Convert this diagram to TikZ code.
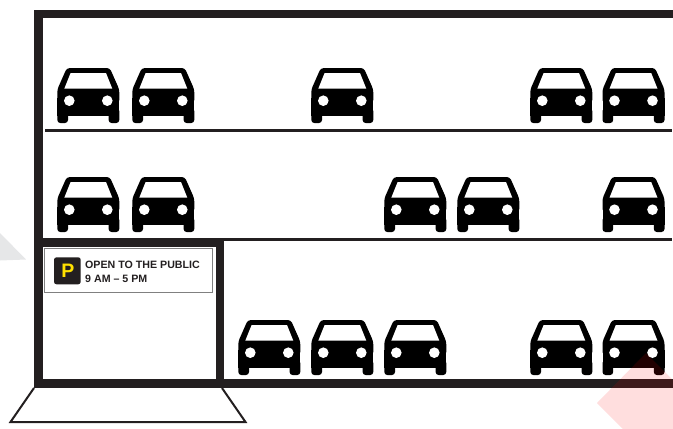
\documentclass[tikz,border=0pt]{standalone}
\usepackage{fontspec}
\setmainfont{Liberation Sans}
\definecolor{ink}{HTML}{231F20}
\definecolor{softgray}{HTML}{E6E7E8}
\definecolor{signyellow}{HTML}{FFE100}
\tikzset{
  wall/.style={fill=ink,draw=none},
  rowline/.style={draw=ink,line width=3pt},
  ramp/.style={draw=ink,line width=2pt,line join=miter},
  carcar/.pic={
    \fill[black,rounded corners=3pt] (9.5,0) -- (52.5,0) -- (62,21.5) -- (62,35) -- (0,35) -- (0,21.5) -- cycle;
    \fill[black] (0,30) rectangle (62,48);
    \fill[black,rounded corners=3pt] (0,40) rectangle (10.7,55);
    \fill[black,rounded corners=3pt] (51.3,40) rectangle (62,55);
    \fill[white] (13.3,5) -- (48.7,5) -- (55,20.7) -- (7,20.7) -- cycle;
    \fill[white] (12,32.7) circle (5.3);
    \fill[white] (50,32.7) circle (5.3);
  }
}
\begin{document}
\begin{tikzpicture}[x=1pt,y=-1pt]
\useasboundingbox (0,0) rectangle (673,429);
\begin{scope}
\clip (0,0) rectangle (673,429);
\fill[softgray] (0,233) -- (26,259.5) -- (0,260.5) -- cycle;
% building
\fill[wall] (33.5,9.5) rectangle (673,18);
\fill[wall] (33.5,9.5) rectangle (42.5,388);
\fill[wall] (33.5,379) rectangle (673,388);
\fill[wall] (33.5,238) rectangle (224,246.5);
\fill[wall] (216,238) rectangle (224,388);
\coordinate (r1a) at (45,130.5);
\coordinate (r1b) at (672,130.5);
\coordinate (r2a) at (224,239);
\coordinate (r2b) at (672,239);
\draw[rowline] (r1a) -- (r1b);
\draw[rowline] (r2a) -- (r2b);
\coordinate (t1) at (34,388);
\coordinate (t2) at (222,388);
\coordinate (b1) at (10.5,422);
\coordinate (b2) at (245.5,422);
\draw[ramp] (t1) -- (b1) -- (b2) -- (t2);
% cars
\foreach \cx in {57.3,132.3,311.3,530.3,602.5} \pic at (\cx,68) {carcar};
\foreach \cx in {57.3,132.3,384.3,457.3,602.5} \pic at (\cx,177) {carcar};
\foreach \cx in {238.3,311.3,384.3,530.3,602.5} \pic at (\cx,320) {carcar};
% sign
\draw[draw=gray,fill=white,line width=1pt] (44,248.5) rectangle (212.5,292.5);
\fill[ink,rounded corners=2.5pt] (54,257.3) rectangle (80.7,284.3);
\node[font=\fontsize{19.5}{19.5}\selectfont\bfseries,text=signyellow,inner sep=0pt] (plabel) at (68,270.5) {P};
\node[font=\fontsize{10.65}{14}\selectfont\bfseries,text=ink,inner sep=0pt,anchor=west,align=left] (signtext) at (85,271.5) {OPEN TO THE PUBLIC\\9 AM – 5 PM};
% red diamond overlay
\fill[red,opacity=.13] (646,353) -- (597,403) -- (645,451) -- (740,451) -- (740,447) -- cycle;
\end{scope}
\end{tikzpicture}
\end{document}
